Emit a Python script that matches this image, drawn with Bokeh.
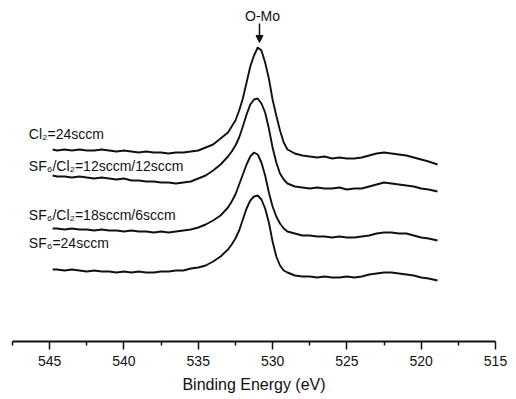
from bokeh.plotting import figure
from bokeh.models import Range1d, FixedTicker, Arrow, NormalHead, ColumnDataSource
from bokeh.core.properties import value
from bokeh.embed import file_html
from bokeh.resources import INLINE

# Binding energy grid (eV)
energy = [544.8, 544.5, 544.0, 543.5, 543.0, 542.5, 542.0, 541.5, 541.0, 540.5,
          540.0, 539.5, 539.0, 538.5, 538.0, 537.5, 537.0, 536.5, 536.0, 535.5,
          535.0, 534.5, 534.0, 533.5, 533.0, 532.75, 532.5, 532.25, 532.0, 531.75,
          531.5, 531.25, 531.0, 530.75, 530.5, 530.25, 530.0, 529.75, 529.5, 529.25,
          529.0, 528.5, 528.0,
          527.5, 527.0, 526.5, 526.0, 525.5, 525.0, 524.5, 524.0, 523.5, 523.0,
          522.5, 522.0, 521.5, 521.0, 520.5, 520.0, 519.5, 518.9]

# Intensities (arbitrary units, stacked with offsets as in the figure)
cl2_24 = [192, 191, 192, 191, 192, 191, 191, 192, 191, 190,
          191, 190, 189, 190, 189, 189, 188, 189, 189, 190,
          191, 194, 197, 203, 209, 215, 221, 231, 243, 259,
          275, 286, 294, 291, 279, 263, 242, 226, 211, 199,
          192, 188, 186,
          185, 184, 185, 183, 184, 183, 183, 184, 186, 188,
          189, 188, 187, 186, 184, 182, 180, 177]
sf6cl2_12_12 = [166, 165, 165, 164, 165, 164, 163, 164, 163, 162,
                163, 161, 161, 160, 160, 159, 159, 158, 159, 160,
                163, 166, 171, 177, 185, 190, 196, 204, 215, 227,
                237, 242, 243, 238, 229, 213, 194, 179, 168, 162,
                158, 155, 154,
                153, 154, 153, 153, 154, 152, 153, 153, 155, 157,
                159, 158, 157, 156, 155, 153, 152, 150]
sf6cl2_18_6 = [113, 113, 112, 113, 112, 112, 111, 112, 111, 111,
               110, 111, 110, 110, 109, 110, 109, 110, 111, 112,
               114, 117, 121, 126, 134, 140, 147, 157, 167, 177,
               185, 189, 187, 179, 166, 149, 135, 125, 118, 113,
               110, 108, 106,
               106, 105, 105, 104, 105, 104, 104, 105, 106, 108,
               109, 109, 108, 108, 106, 104, 103, 101]
sf6_24 = [72, 72, 71, 72, 71, 70, 71, 70, 70, 69,
          70, 69, 70, 69, 69, 70, 70, 71, 71, 73,
          74, 76, 80, 85, 92, 97, 103, 111, 122, 133,
          141, 145, 146, 142, 133, 119, 100, 85, 76, 71,
          69, 66, 65,
          65, 64, 65, 64, 64, 65, 64, 65, 67, 68,
          69, 69, 68, 67, 66, 64, 63, 61]

series = [cl2_24, sf6cl2_12_12, sf6cl2_18_6, sf6_24]
labels = ["Cl\u2082=24sccm", "SF\u2086/Cl\u2082=12sccm/12sccm",
          "SF\u2086/Cl\u2082=18sccm/6sccm", "SF\u2086=24sccm"]
label_x = [546.4, 546.4, 546.4, 546.4]
label_y = [208, 176, 127, 99]

major_ticks = [545, 540, 535, 530, 525, 520, 515]
minor_ticks = [547.5, 542.5, 537.5, 532.5, 527.5, 522.5, 517.5]

peak_label = "O-Mo"
peak_energy = 530.88

FONT = "Liberation Sans"

p = figure(width=508, height=397, output_backend="svg", toolbar_location=None,
           x_range=Range1d(547.5, 515), y_range=Range1d(0, 333),
           y_axis_location=None, min_border_left=12, min_border_right=13,
           min_border_top=8, min_border_bottom=56)
p.outline_line_color = None
p.xgrid.visible = False
p.ygrid.visible = False
p.background_fill_color = "white"
p.border_fill_color = "white"

for s in series:
    p.line(energy, s, line_color="#111111", line_width=1.9)

src = ColumnDataSource(dict(x=label_x, y=label_y, t=labels))
p.text(x="x", y="y", text="t", source=src, text_font=value(FONT),
       text_font_size="14px", text_baseline="middle", text_align="left",
       text_color="#111111")

p.text(x=[peak_energy], y=[326], text=[peak_label], text_font=value(FONT),
       text_font_size="14px", text_baseline="middle", text_align="center",
       x_offset=3, text_color="#111111")
p.add_layout(Arrow(end=NormalHead(size=7, fill_color="#111111", line_color="#111111"),
                   x_start=peak_energy, y_start=318, x_end=peak_energy, y_end=299,
                   line_width=1.5, line_color="#111111"))

ax = p.xaxis[0]
ax.ticker = FixedTicker(ticks=major_ticks, minor_ticks=minor_ticks)
ax.axis_label = "Binding Energy (eV)"
ax.axis_label_text_font = FONT
ax.axis_label_text_font_size = "16px"
ax.axis_label_text_font_style = "normal"
ax.axis_label_text_color = "#111111"
ax.axis_label_standoff = 7
ax.major_label_text_font = FONT
ax.major_label_text_font_size = "14px"
ax.major_label_text_color = "#111111"
ax.major_label_standoff = 6
ax.axis_line_width = 2
ax.axis_line_color = "#111111"
ax.major_tick_line_width = 1.5
ax.major_tick_line_color = "#111111"
ax.major_tick_in = 0
ax.major_tick_out = 8
ax.minor_tick_line_width = 1.5
ax.minor_tick_line_color = "#111111"
ax.minor_tick_in = 0
ax.minor_tick_out = 4

open("out.html", "w").write(file_html(p, INLINE))
